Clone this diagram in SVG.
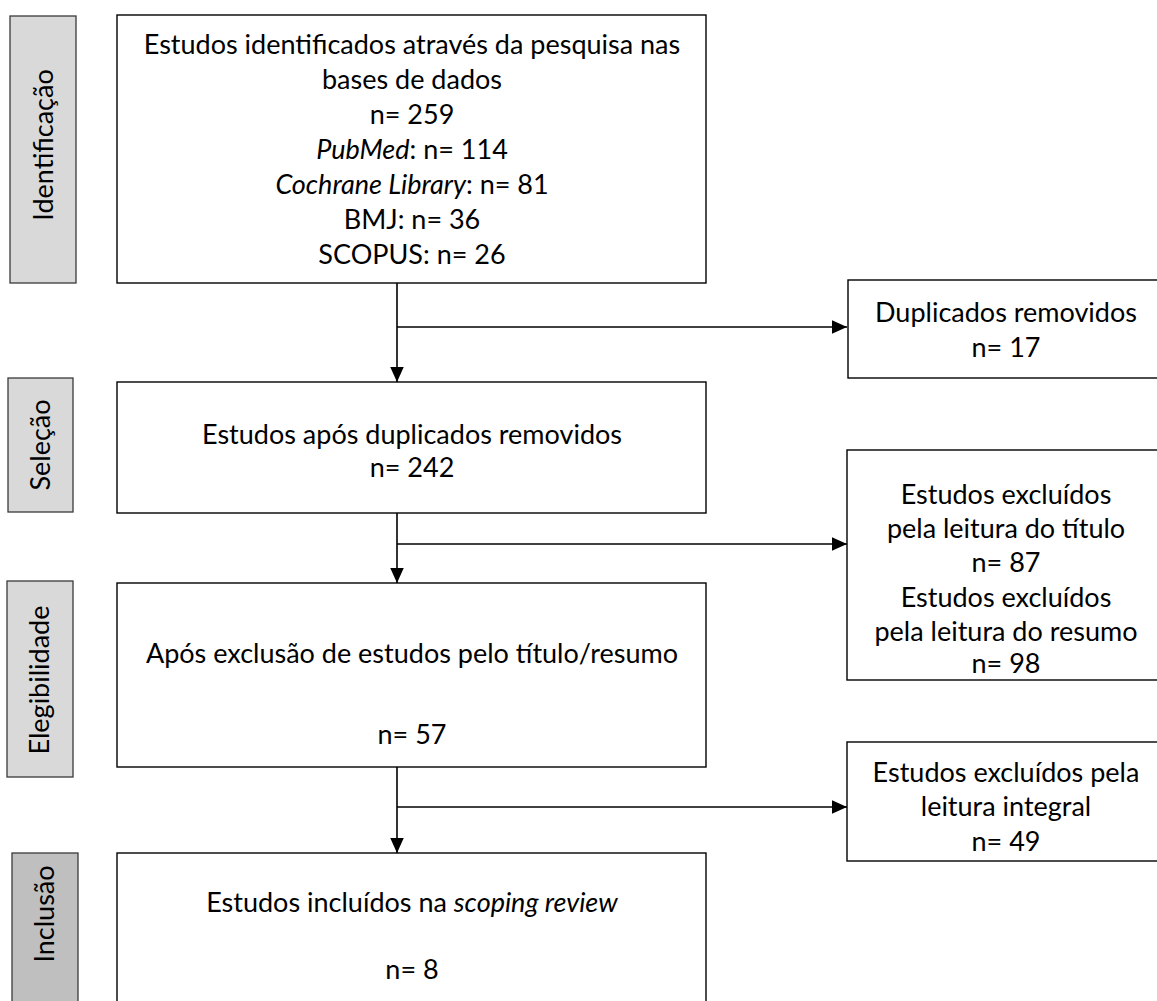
<svg xmlns="http://www.w3.org/2000/svg" width="1157" height="1001" viewBox="0 0 1157 1001">
<style>
  .box { fill: #ffffff; stroke: #000000; stroke-width: 1.4; }
  .phase { fill: #d9d9d9; stroke: #3a3a3a; stroke-width: 1.3; }
  .phase2 { fill: #bfbfbf; stroke: #3a3a3a; stroke-width: 1.3; }
  text { font-family: Lato, "Open Sans", "Liberation Sans", sans-serif; font-size: 27px; fill: #000000; text-anchor: middle; }
  .it { font-style: italic; }
  .conn { stroke: #000000; stroke-width: 1.6; fill: none; }
</style>
<defs>
  <marker id="arrh" viewBox="0 0 10 10" refX="10" refY="5" markerWidth="15" markerHeight="15" markerUnits="userSpaceOnUse" orient="auto">
    <path d="M0,0.5 L10,5 L0,9.5 Z" fill="#000000"/>
  </marker>
</defs>
<rect width="1157" height="1001" fill="#ffffff"/>

<g id="phase-identificacao">
  <rect class="phase" x="10" y="16" width="66" height="267"/>
  <text transform="translate(53,145) rotate(-90)">Identificação</text>
</g>
<g id="phase-selecao">
  <rect class="phase" x="8" y="378" width="65" height="134"/>
  <text transform="translate(50,445) rotate(-90)">Seleção</text>
</g>
<g id="phase-elegibilidade">
  <rect class="phase" x="7" y="581" width="66" height="196"/>
  <text transform="translate(49,680) rotate(-90)">Elegibilidade</text>
</g>
<g id="phase-inclusao">
  <rect class="phase2" x="12" y="853" width="66" height="160"/>
  <text transform="translate(54,914) rotate(-90)">Inclusão</text>
</g>

<g id="box-identificados">
  <rect class="box" x="117" y="15" width="589" height="268"/>
  <text x="412" y="54">Estudos identificados através da pesquisa nas</text>
  <text x="412" y="89">bases de dados</text>
  <text x="412" y="124">n= 259</text>
  <text x="412" y="159"><tspan class="it">PubMed</tspan>: n= 114</text>
  <text x="412" y="194"><tspan class="it">Cochrane Library</tspan>: n= 81</text>
  <text x="412" y="229">BMJ: n= 36</text>
  <text x="412" y="264">SCOPUS: n= 26</text>
</g>

<g id="box-duplicados">
  <rect class="box" x="848" y="280" width="320" height="98"/>
  <text x="1006" y="322">Duplicados removidos</text>
  <text x="1006" y="357">n= 17</text>
</g>

<g id="box-apos-duplicados">
  <rect class="box" x="117" y="382" width="589" height="131"/>
  <text x="412" y="444">Estudos após duplicados removidos</text>
  <text x="412" y="477">n= 242</text>
</g>

<g id="box-excluidos-titulo-resumo">
  <rect class="box" x="847" y="450" width="320" height="230"/>
  <text x="1006" y="504">Estudos excluídos</text>
  <text x="1006" y="538">pela leitura do título</text>
  <text x="1006" y="572">n= 87</text>
  <text x="1006" y="607">Estudos excluídos</text>
  <text x="1006" y="641">pela leitura do resumo</text>
  <text x="1006" y="673">n= 98</text>
</g>

<g id="box-apos-exclusao">
  <rect class="box" x="117" y="583" width="589" height="184"/>
  <text x="412" y="663">Após exclusão de estudos pelo título/resumo</text>
  <text x="412" y="744">n= 57</text>
</g>

<g id="box-excluidos-integral">
  <rect class="box" x="847" y="742" width="320" height="119"/>
  <text x="1006" y="782">Estudos excluídos pela</text>
  <text x="1006" y="816">leitura integral</text>
  <text x="1006" y="851">n= 49</text>
</g>

<g id="box-incluidos">
  <rect class="box" x="117" y="853" width="589" height="160"/>
  <text x="412" y="912">Estudos incluídos na <tspan class="it">scoping review</tspan></text>
  <text x="412" y="979">n= 8</text>
</g>

<g id="connectors">
  <line class="conn" x1="397" y1="283" x2="397" y2="382" marker-end="url(#arrh)"/>
  <line class="conn" x1="397" y1="327" x2="847" y2="327" marker-end="url(#arrh)"/>
  <line class="conn" x1="397" y1="513" x2="397" y2="583" marker-end="url(#arrh)"/>
  <line class="conn" x1="397" y1="544" x2="847" y2="544" marker-end="url(#arrh)"/>
  <line class="conn" x1="397" y1="767" x2="397" y2="853" marker-end="url(#arrh)"/>
  <line class="conn" x1="397" y1="807" x2="847" y2="807" marker-end="url(#arrh)"/>
</g>
</svg>
